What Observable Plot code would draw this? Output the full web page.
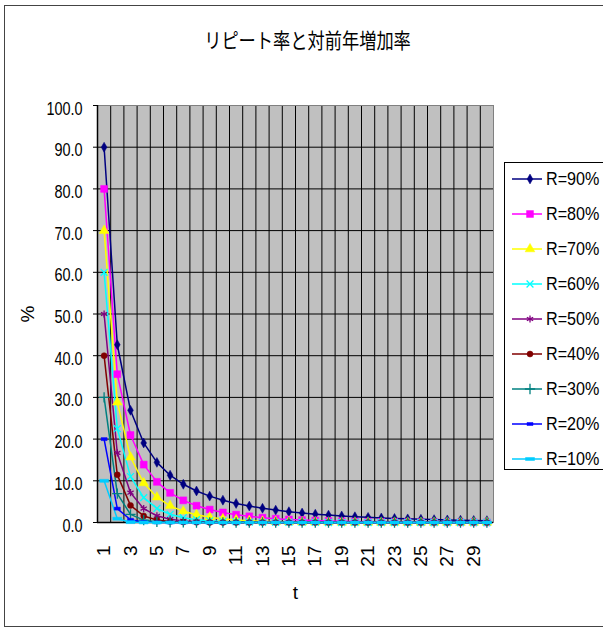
<!DOCTYPE html>
<html><head><meta charset="utf-8">
<script src="https://cdn.jsdelivr.net/npm/d3@7"></script>
<script src="https://cdn.jsdelivr.net/npm/@observablehq/plot@0.6"></script>
<style>
body{margin:0;background:#fff;overflow:hidden;}
#wrap{position:relative;width:603px;height:628px;overflow:hidden;font-family:"Liberation Sans",Arial,sans-serif;}
#chart{position:absolute;left:0;top:0;}
#frame{position:absolute;left:4px;top:5px;width:640px;height:622px;border:1.5px solid #444;box-sizing:border-box;pointer-events:none;}
#title{position:absolute;left:0;width:615px;top:26px;text-align:center;font-family:"Noto Sans CJK JP",sans-serif;font-size:21px;line-height:26px;transform:scaleX(0.82);transform-origin:307.5px 0;white-space:nowrap;}
#legend{position:absolute;left:504px;top:162px;width:130px;height:308px;border:1px solid #000;background:#fff;box-sizing:border-box;}
.row{position:absolute;left:0;height:20px;width:130px;}
.row svg{position:absolute;left:6px;top:0;}
.row span{position:absolute;left:41px;top:-2px;font-size:19px;line-height:24px;transform:scaleX(0.85);transform-origin:0 0;white-space:nowrap;}
</style></head>
<body>
<div id="wrap">
  <div id="chart"></div>
  <div id="frame"></div>
  <div id="title">リピート率と対前年増加率</div>
  <div id="legend"></div>
</div>
<script>
// ---- data ----
const tValues = [1,2,3,4,5,6,7,8,9,10,11,12,13,14,15,16,17,18,19,20,21,22,23,24,25,26,27,28,29,30];
const xTickLabels = [1,3,5,7,9,11,13,15,17,19,21,23,25,27,29];
const yTicks = [0,10,20,30,40,50,60,70,80,90,100];
const seriesNames = ["R=90%","R=80%","R=70%","R=60%","R=50%","R=40%","R=30%","R=20%","R=10%"];
const r90 = [90.00,42.63,26.90,19.08,14.42,11.34,9.17,7.56,6.32,5.35,4.57,3.94,3.41,2.97,2.59,2.27,2.00,1.77,1.56,1.38,1.23,1.09,0.97,0.87,0.77,0.69,0.62,0.55,0.49,0.44];
const r80 = [80.00,35.56,20.98,13.88,9.75,7.11,5.31,4.03,3.10,2.41,1.88,1.48,1.16,0.92,0.73,0.58,0.46,0.37,0.29,0.23,0.19,0.15,0.12,0.09,0.08,0.06,0.05,0.04,0.03,0.02];
const r70 = [70.00,28.82,15.66,9.48,6.06,4.00,2.69,1.84,1.26,0.87,0.61,0.42,0.29,0.20,0.14,0.10,0.07,0.05,0.03,0.02,0.02,0.01,0.01,0.01,0,0,0,0,0,0];
const r60 = [60.00,22.50,11.02,5.96,3.37,1.96,1.15,0.68,0.41,0.24,0.15,0.09,0.05,0.03,0.02,0.01,0.01,0,0,0,0,0,0,0,0,0,0,0,0,0];
const r50 = [50.00,16.67,7.14,3.33,1.61,0.79,0.39,0.20,0.10,0.05,0.02,0.01,0.01,0,0,0,0,0,0,0,0,0,0,0,0,0,0,0,0,0];
const r40 = [40.00,11.43,4.10,1.58,0.62,0.25,0.10,0.04,0.02,0.01,0,0,0,0,0,0,0,0,0,0,0,0,0,0,0,0,0,0,0,0];
const r30 = [30.00,6.92,1.94,0.57,0.17,0.05,0.02,0,0,0,0,0,0,0,0,0,0,0,0,0,0,0,0,0,0,0,0,0,0,0];
const r20 = [20.00,3.33,0.65,0.13,0.03,0.01,0,0,0,0,0,0,0,0,0,0,0,0,0,0,0,0,0,0,0,0,0,0,0,0];
const r10 = [10.00,0.91,0.09,0.01,0,0,0,0,0,0,0,0,0,0,0,0,0,0,0,0,0,0,0,0,0,0,0,0,0,0];
const seriesValues = [r90,r80,r70,r60,r50,r40,r30,r20,r10];

// ---- styles ----
const colors = ["#000080","#ff00ff","#ffff00","#00ffff","#800080","#800000","#008080","#0000ff","#00ccff"];
function bar(w,h){return {draw(ctx){ctx.moveTo(-w/2,-h/2);ctx.lineTo(w/2,-h/2);ctx.lineTo(w/2,h/2);ctx.lineTo(-w/2,h/2);ctx.closePath();}};}
const symbols = ["diamond","square","triangle","times","asterisk","circle","plus",bar(6,3),bar(9,3)];
const radii = [3.0,3.9,3.6,3.2,3.4,3.0,3.4,3,3];
const filled = [true,true,true,false,false,true,false,true,true];

const W = 603, H = 628;
const xDomain = [tValues[0]-0.5, tValues[tValues.length-1]+0.5];
const boundaries = tValues.slice(1).map(t => t-0.5);

const marks = [
  Plot.frame({fill:"#c0c0c0"}),
  Plot.gridY({ticks: yTicks, stroke:"#000", strokeOpacity:1, strokeWidth:1}),
  Plot.ruleX(boundaries, {stroke:"#000", strokeWidth:1}),
  Plot.frame({stroke:"#808080"}),
  Plot.ruleY([yTicks[0]], {stroke:"#000", strokeWidth:1.5}),
  Plot.ruleX([xDomain[0]], {stroke:"#000", strokeWidth:1.5}),
  Plot.axisY({ticks: yTicks, tickSize:4, text:null, label:null}),
  Plot.axisY({ticks: yTicks, tickSize:0, tickPadding:15, dy:3, tickFormat: d => d.toFixed(1), fontSize:19,
              label:"%", labelAnchor:"center", labelArrow:"none", labelOffset:77}),
  Plot.axisX({ticks: xTickLabels, tickSize:0, tickPadding:23, tickRotate:-90, fontSize:19,
              label:"t", labelAnchor:"center", labelArrow:"none", labelOffset:76})
];
seriesValues.forEach((vals, i) => {
  const rows = tValues.map((t, j) => ({t, v: vals[j]}));
  marks.push(Plot.line(rows, {x:"t", y:"v", stroke: colors[i], strokeWidth:1.5}));
});
seriesValues.forEach((vals, i) => {
  const rows = tValues.map((t, j) => ({t, v: vals[j]}));
  marks.push(Plot.dot(rows, filled[i]
    ? {x:"t", y:"v", symbol: symbols[i], r: radii[i], fill: colors[i], stroke: colors[i], strokeWidth:0.5}
    : {x:"t", y:"v", symbol: symbols[i], r: radii[i], fill: "none", stroke: colors[i], strokeWidth:1.3}));
});

const chart = Plot.plot({
  width: W, height: H,
  marginLeft: 97, marginRight: 110, marginTop: 105, marginBottom: 106,
  style: {background:"transparent", fontFamily:'"Liberation Sans",Arial,sans-serif', fontSize:"19px", color:"#000"},
  x: {domain: xDomain},
  y: {domain: [yTicks[0], yTicks[yTicks.length-1]]},
  marks
});
document.getElementById("chart").appendChild(chart);

// condense the y tick labels (narrow typeface look)
d3.select(chart).selectAll('g[aria-label="y-axis tick label"] text').each(function() {
  const L = this.getComputedTextLength();
  this.setAttribute("textLength", (L * 0.76).toFixed(1));
  this.setAttribute("lengthAdjust", "spacingAndGlyphs");
});

// ---- legend ----
const legend = d3.select("#legend");
const nameMap = {diamond:d3.symbolDiamond, square:d3.symbolSquare, triangle:d3.symbolTriangle, times:d3.symbolTimes, asterisk:d3.symbolAsterisk, circle:d3.symbolCircle, plus:d3.symbolPlus};
seriesNames.forEach((name, i) => {
  const row = legend.append("div").attr("class","row").style("top", (6 + 35*i) + "px");
  const svg = row.append("svg").attr("width",36).attr("height",20);
  svg.append("line").attr("x1",1).attr("x2",31).attr("y1",10).attr("y2",10).attr("stroke",colors[i]).attr("stroke-width",1.5);
  const type = typeof symbols[i] === "string" ? nameMap[symbols[i]] : symbols[i];
  const p = d3.symbol().type(type).size(Math.PI*radii[i]*radii[i])();
  svg.append("path").attr("d", p).attr("transform","translate(19,10)")
    .attr("fill", filled[i] ? colors[i] : "none").attr("stroke", colors[i]).attr("stroke-width", filled[i] ? 0.5 : 1.3);
  row.append("span").text(name);
});
</script>
</body></html>
